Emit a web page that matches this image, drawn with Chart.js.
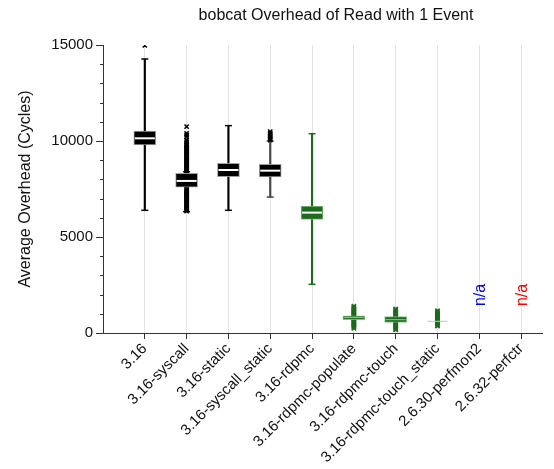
<!DOCTYPE html>
<html>
<head>
<meta charset="utf-8">
<script src="https://cdn.jsdelivr.net/npm/chart.js@4/dist/chart.umd.min.js"></script>
<style>
html,body{margin:0;padding:0;background:#fff;}
#wrap{width:554px;height:469px;}
</style>
</head>
<body>
<div id="wrap"><canvas id="c" width="554" height="469"></canvas></div>
<script>
// ---- data ----
const categories = ['3.16','3.16-syscall','3.16-static','3.16-syscall_static','3.16-rdpmc',
  '3.16-rdpmc-populate','3.16-rdpmc-touch','3.16-rdpmc-touch_static','2.6.30-perfmon2','2.6.32-perfctr'];
const q1 =          [9790, 7590, 8140, 8125, 5920, 700, 545, 608, null, null];
const medians =     [10140, 7920, 8490, 8455, 6270, 800, 694, 608, null, null];
const q3 =          [10520, 8320, 8840, 8785, 6615, 900, 850, 608, null, null];
const whiskerLow =  [6390, 6320, 6390, 7080, 2535, null, null, null, null, null];
const whiskerHigh = [14270, 8400, 10800, 10000, 10380, null, null, null, null, null];
const outliers = [
  [14980],
  [10750, 10400, 10300, 10200, 10050, 9950, 9850, 9800, 9750, 9700, 9650, 9600, 9550, 9500, 9450, 9400, 9350,
   9300, 9250, 9200, 9150, 9100, 9050, 9000, 8950, 8900, 8850, 8800, 8750, 8700, 8650, 8600, 8550, 8500, 8450, 8400,
   7500, 7450, 7400, 7350, 7300, 7250, 7200, 7150, 7100, 7050, 7000, 6950, 6900, 6850, 6800, 6750, 6700, 6650,
   6600, 6550, 6500, 6450, 6400, 6350],
  [],
  [10490, 10400, 10350, 10250, 10150, 10100, 10050],
  [],
  [1400, 1340, 1290, 1240, 1190, 1140, 1090, 1040, 990, 940, 890, 840, 790, 740, 690, 640, 590, 540, 490, 440, 390, 340, 290, 245],
  [1250, 1200, 1150, 1100, 1050, 1000, 950, 900, 850, 800, 750, 700, 650, 600, 550, 500, 450, 400, 350, 300, 250, 200, 160],
  [1160, 1110, 1060, 1010, 960, 910, 860, 810, 760, 710, 660, 610, 560, 510, 460, 410, 365],
  [],
  []
];
const naLabels = ['', '', '', '', '', '', '', '', 'n/a', 'n/a'];
const naValue = 1980;
const yTickValues = [0, 5000, 10000, 15000];
const yMinorStep = 1000;

// ---- styles ----
const BLACK = '#000000', GREEN = '#1e6a1e';
const boxColor = categories.map((c, i) => i < 4 ? BLACK : GREEN);
const boxEdge = categories.map((c, i) => i < 4 ? 'rgba(150,150,150,0.9)' : 'rgba(120,185,120,0.9)');
const whiskerColor = categories.map((c, i) => i === 3 ? '#444444' : boxColor[i]);
const medianColor = categories.map((c, i) => i === 7 ? 'rgba(170,215,170,1)' : (i >= 5 ? 'rgba(150,200,150,1)' : '#ffffff'));
const medianWidth = categories.map((c, i) => i >= 5 ? 1 : 2);
const naColor = ['', '', '', '', '', '', '', '', '#0000ff', '#ff0000'];
const FONT = "'Liberation Sans', Arial, Helvetica, sans-serif";

const xs = categories.map((c, i) => i + 1);
const boxData = xs.map((x, i) => ({x, y: q1[i] == null ? null : [q1[i], q3[i]]}));
const whiskerData = xs.map((x, i) => ({x, y: whiskerLow[i] == null ? null : [whiskerLow[i], whiskerHigh[i]]}));
const capLowData = xs.map((x, i) => ({x, y: whiskerLow[i]}));
const capHighData = xs.map((x, i) => ({x, y: whiskerHigh[i]}));
const medianData = xs.map((x, i) => ({x, y: medians[i]}));
const outData = [], outColors = [];
outliers.forEach((arr, i) => arr.forEach(v => { outData.push({x: i + 1, y: v}); outColors.push(boxColor[i]); }));

const extras = {
  id: 'extras',
  afterDraw(chart) {
    const ctx = chart.ctx, xS = chart.scales.x, yS = chart.scales.y, a = chart.chartArea;
    ctx.save();
    // minor y ticks
    ctx.strokeStyle = '#333'; ctx.lineWidth = 1;
    for (let v = 0; v <= 15000; v += yMinorStep) {
      if (v % 5000 === 0) continue;
      const y = Math.round(yS.getPixelForValue(v)) + 0.5;
      ctx.beginPath(); ctx.moveTo(a.left - 3, y); ctx.lineTo(a.left, y); ctx.stroke();
    }
    // title
    ctx.fillStyle = '#111';
    ctx.font = '16px ' + FONT;
    ctx.textAlign = 'center'; ctx.textBaseline = 'middle';
    ctx.fillText('bobcat Overhead of Read with 1 Event', 336, 16);
    // n/a labels
    naLabels.forEach((t, i) => {
      if (!t) return;
      const x = xS.getPixelForValue(i + 1), y = yS.getPixelForValue(naValue);
      ctx.save(); ctx.translate(x + 1, y); ctx.rotate(-Math.PI / 2);
      ctx.fillStyle = naColor[i]; ctx.font = '16px ' + FONT;
      ctx.textAlign = 'center'; ctx.textBaseline = 'middle';
      ctx.fillText(t, 0, 0); ctx.restore();
    });
    ctx.restore();
  }
};

new Chart(document.getElementById('c'), {
  type: 'bar',
  data: {
    datasets: [
      {type: 'bar', data: whiskerData, backgroundColor: whiskerColor, barThickness: 1.5, grouped: false, order: 5, borderWidth: 0},
      {type: 'scatter', data: capLowData, pointStyle: 'line', radius: 3.5, borderWidth: 1.5, borderColor: whiskerColor, order: 4},
      {type: 'scatter', data: capHighData, pointStyle: 'line', radius: 3.5, borderWidth: 1.5, borderColor: whiskerColor, order: 4},
      {type: 'scatter', data: outData, pointStyle: 'crossRot', radius: 3, borderWidth: 1.5, borderColor: outColors, backgroundColor: outColors, order: 3},
      {type: 'bar', data: boxData, backgroundColor: boxColor, borderColor: boxEdge, borderWidth: 1, borderSkipped: false, barThickness: 22, grouped: false, order: 2},
      {type: 'scatter', data: medianData, pointStyle: 'line', radius: 10, borderWidth: medianWidth, borderColor: medianColor, order: 1}
    ]
  },
  options: {
    responsive: false,
    animation: false,
    events: [],
    layout: {padding: {top: 45, right: 6, left: 0, bottom: 0}},
    plugins: {legend: {display: false}, tooltip: {enabled: false}, title: {display: false}},
    scales: {
      x: {
        type: 'linear', min: 0, max: 10.5, offset: false,
        afterBuildTicks(s) { s.ticks = xs.map(v => ({value: v})); },
        afterFit(s) { s.height = 136; },
        ticks: {
          callback: (v) => categories[v - 1] || '',
          maxRotation: 45, minRotation: 45, autoSkip: false,
          color: '#111', font: {family: FONT, size: 15}, padding: 1
        },
        grid: {offset: false, color: '#e3e3e3', lineWidth: 1, tickColor: '#333', tickLength: 6, drawOnChartArea: true},
        border: {color: '#333', width: 1}
      },
      y: {
        type: 'linear', min: 0, max: 15000,
        afterBuildTicks(s) { s.ticks = yTickValues.map(v => ({value: v})); },
        afterFit(s) { s.width = 103; },
        ticks: {color: '#111', font: {family: FONT, size: 15}, padding: 3, callback: (v) => String(v)},
        grid: {drawOnChartArea: false, tickColor: '#333', tickLength: 7},
        border: {color: '#333', width: 1},
        title: {display: true, text: 'Average Overhead (Cycles)', color: '#111', font: {family: FONT, size: 16}, padding: {top: 16, bottom: 0}}
      }
    }
  },
  plugins: [extras]
});
</script>
</body>
</html>
